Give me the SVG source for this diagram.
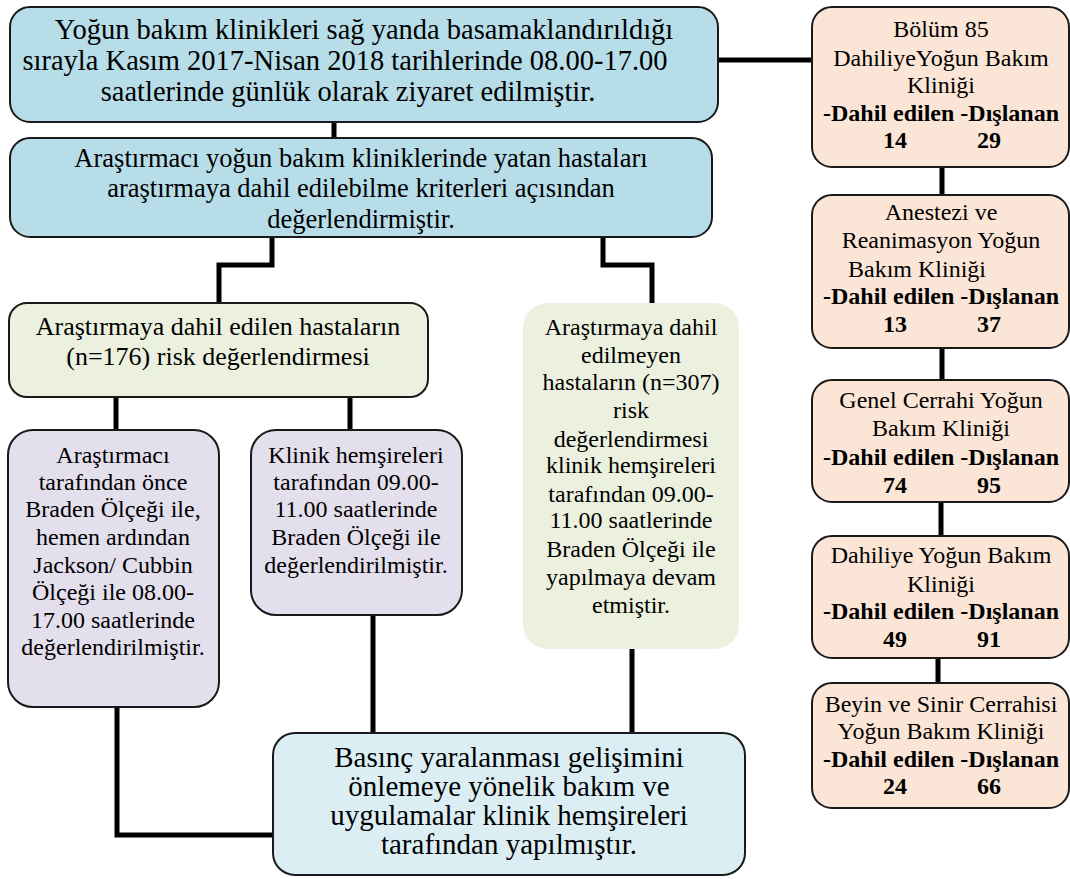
<svg xmlns="http://www.w3.org/2000/svg" width="1070" height="879" viewBox="0 0 1070 879">
<style>
.box{stroke:#1a1a1a;stroke-width:2}
.blue{fill:#b7dde8}
.lblue{fill:#dbeef4}
.green{fill:#ebf1de}
.purple{fill:#e4dfec}
.peach{fill:#fbe5d6}
.conn{stroke:#000;stroke-width:5;fill:none}
text{font-family:"Liberation Serif","Times New Roman",serif;fill:#000;text-anchor:middle}
.s0{font-size:28.5px}
.s1{font-size:26.5px}
.s2{font-size:26px}
.s3{font-size:24px}
.s4{font-size:29px}
.b{font-weight:bold}
.st{text-anchor:start}
</style>
<rect width="1070" height="879" fill="#fff"/>
<g id="connectors">
<path class="conn" d="M718 60H812"/>
<path class="conn" d="M334 122V138"/>
<path class="conn" d="M272 237V265H219V303"/>
<path class="conn" d="M603 237V265H652V303"/>
<path class="conn" d="M116 397V430"/>
<path class="conn" d="M350 397V430"/>
<path class="conn" d="M117 707V835H273"/>
<path class="conn" d="M373 615V733"/>
<path class="conn" d="M632 649V733"/>
<path class="conn" d="M942 167V195"/>
<path class="conn" d="M942 348V380"/>
<path class="conn" d="M941 502V536"/>
<path class="conn" d="M938 658V683"/>
</g>
<g id="n1">
<rect class="box blue" x="10" y="7" width="708" height="115" rx="20"/>
<text class="s0" x="364" y="39">Yoğun bakım klinikleri sağ yanda basamaklandırıldığı</text>
<text class="s0" x="345" y="70">sırayla Kasım 2017-Nisan 2018 tarihlerinde 08.00-17.00</text>
<text class="s0" x="348" y="101">saatlerinde günlük olarak ziyaret edilmiştir.</text>
</g>
<g id="n2">
<rect class="box blue" x="10" y="138" width="702" height="99" rx="20"/>
<text class="s1" x="361" y="167">Araştırmacı yoğun bakım kliniklerinde yatan hastaları</text>
<text class="s1" x="361" y="197">araştırmaya dahil edilebilme kriterleri açısından</text>
<text class="s1" x="361" y="228">değerlendirmiştir.</text>
</g>
<g id="n3">
<rect class="box green" x="9" y="303" width="419" height="94" rx="18"/>
<text class="s2" x="218" y="335">Araştırmaya dahil edilen hastaların</text>
<text class="s2" x="218" y="365">(n=176) risk değerlendirmesi</text>
</g>
<g id="n4">
<rect class="green" x="523" y="303" width="216" height="346" rx="25"/>
<text class="s3" x="631" y="335">Araştırmaya dahil</text>
<text class="s3" x="631" y="363">edilmeyen</text>
<text class="s3" x="631" y="390">hastaların (n=307)</text>
<text class="s3" x="631" y="418">risk</text>
<text class="s3" x="631" y="447">değerlendirmesi</text>
<text class="s3" x="631" y="473">klinik hemşireleri</text>
<text class="s3" x="631" y="502">tarafından 09.00-</text>
<text class="s3" x="631" y="528">11.00 saatlerinde</text>
<text class="s3" x="631" y="557">Braden Ölçeği ile</text>
<text class="s3" x="631" y="585">yapılmaya devam</text>
<text class="s3" x="631" y="613">etmiştir.</text>
</g>
<g id="n5">
<rect class="box purple" x="8" y="430" width="211" height="277" rx="25"/>
<text class="s3" x="113" y="463">Araştırmacı</text>
<text class="s3" x="113" y="490">tarafından önce</text>
<text class="s3" x="113" y="517">Braden Ölçeği ile,</text>
<text class="s3" x="113" y="545">hemen ardından</text>
<text class="s3" x="113" y="573">Jackson/ Cubbin</text>
<text class="s3" x="113" y="600">Ölçeği ile 08.00-</text>
<text class="s3" x="113" y="628">17.00 saatlerinde</text>
<text class="s3" x="113" y="655">değerlendirilmiştir.</text>
</g>
<g id="n6">
<rect class="box purple" x="251" y="430" width="211" height="185" rx="25"/>
<text class="s3" x="356" y="463">Klinik hemşireleri</text>
<text class="s3" x="356" y="490">tarafından 09.00-</text>
<text class="s3" x="356" y="517">11.00 saatlerinde</text>
<text class="s3" x="356" y="545">Braden Ölçeği ile</text>
<text class="s3" x="356" y="573">değerlendirilmiştir.</text>
</g>
<g id="n7">
<rect class="box lblue" x="273" y="733" width="472" height="142" rx="22"/>
<text class="s4" x="509" y="767">Basınç yaralanması gelişimini</text>
<text class="s4" x="509" y="796">önlemeye yönelik bakım ve</text>
<text class="s4" x="509" y="825">uygulamalar klinik hemşireleri</text>
<text class="s4" x="509" y="854">tarafından yapılmıştır.</text>
</g>
<g id="r1">
<rect class="box peach" x="812" y="7" width="257" height="160" rx="20"/>
<text class="s3" x="941" y="37">Bölüm 85</text>
<text class="s3" x="941" y="66">DahiliyeYoğun Bakım</text>
<text class="s3" x="941" y="93">Kliniği</text>
<text class="s3 b" x="941" y="121">-Dahil edilen -Dışlanan</text>
<text class="s3 b" x="895" y="148">14</text>
<text class="s3 b" x="989" y="148">29</text>
</g>
<g id="r2">
<rect class="box peach" x="812" y="195" width="257" height="153" rx="20"/>
<text class="s3" x="941" y="220">Anestezi ve</text>
<text class="s3" x="941" y="248">Reanimasyon Yoğun</text>
<text class="s3 st" x="848" y="277">Bakım Kliniği</text>
<text class="s3 b" x="941" y="304">-Dahil edilen -Dışlanan</text>
<text class="s3 b" x="895" y="332">13</text>
<text class="s3 b" x="989" y="332">37</text>
</g>
<g id="r3">
<rect class="box peach" x="812" y="380" width="257" height="122" rx="20"/>
<text class="s3" x="941" y="408">Genel Cerrahi Yoğun</text>
<text class="s3" x="941" y="436">Bakım Kliniği</text>
<text class="s3 b" x="941" y="465">-Dahil edilen -Dışlanan</text>
<text class="s3 b" x="895" y="493">74</text>
<text class="s3 b" x="989" y="493">95</text>
</g>
<g id="r4">
<rect class="box peach" x="812" y="536" width="257" height="122" rx="20"/>
<text class="s3" x="941" y="563">Dahiliye Yoğun Bakım</text>
<text class="s3" x="941" y="592">Kliniği</text>
<text class="s3 b" x="941" y="619">-Dahil edilen -Dışlanan</text>
<text class="s3 b" x="895" y="647">49</text>
<text class="s3 b" x="989" y="647">91</text>
</g>
<g id="r5">
<rect class="box peach" x="812" y="683" width="257" height="125" rx="20"/>
<text class="s3" x="941" y="712">Beyin ve Sinir Cerrahisi</text>
<text class="s3" x="941" y="739">Yoğun Bakım Kliniği</text>
<text class="s3 b" x="941" y="767">-Dahil edilen -Dışlanan</text>
<text class="s3 b" x="895" y="794">24</text>
<text class="s3 b" x="989" y="794">66</text>
</g>
</svg>
